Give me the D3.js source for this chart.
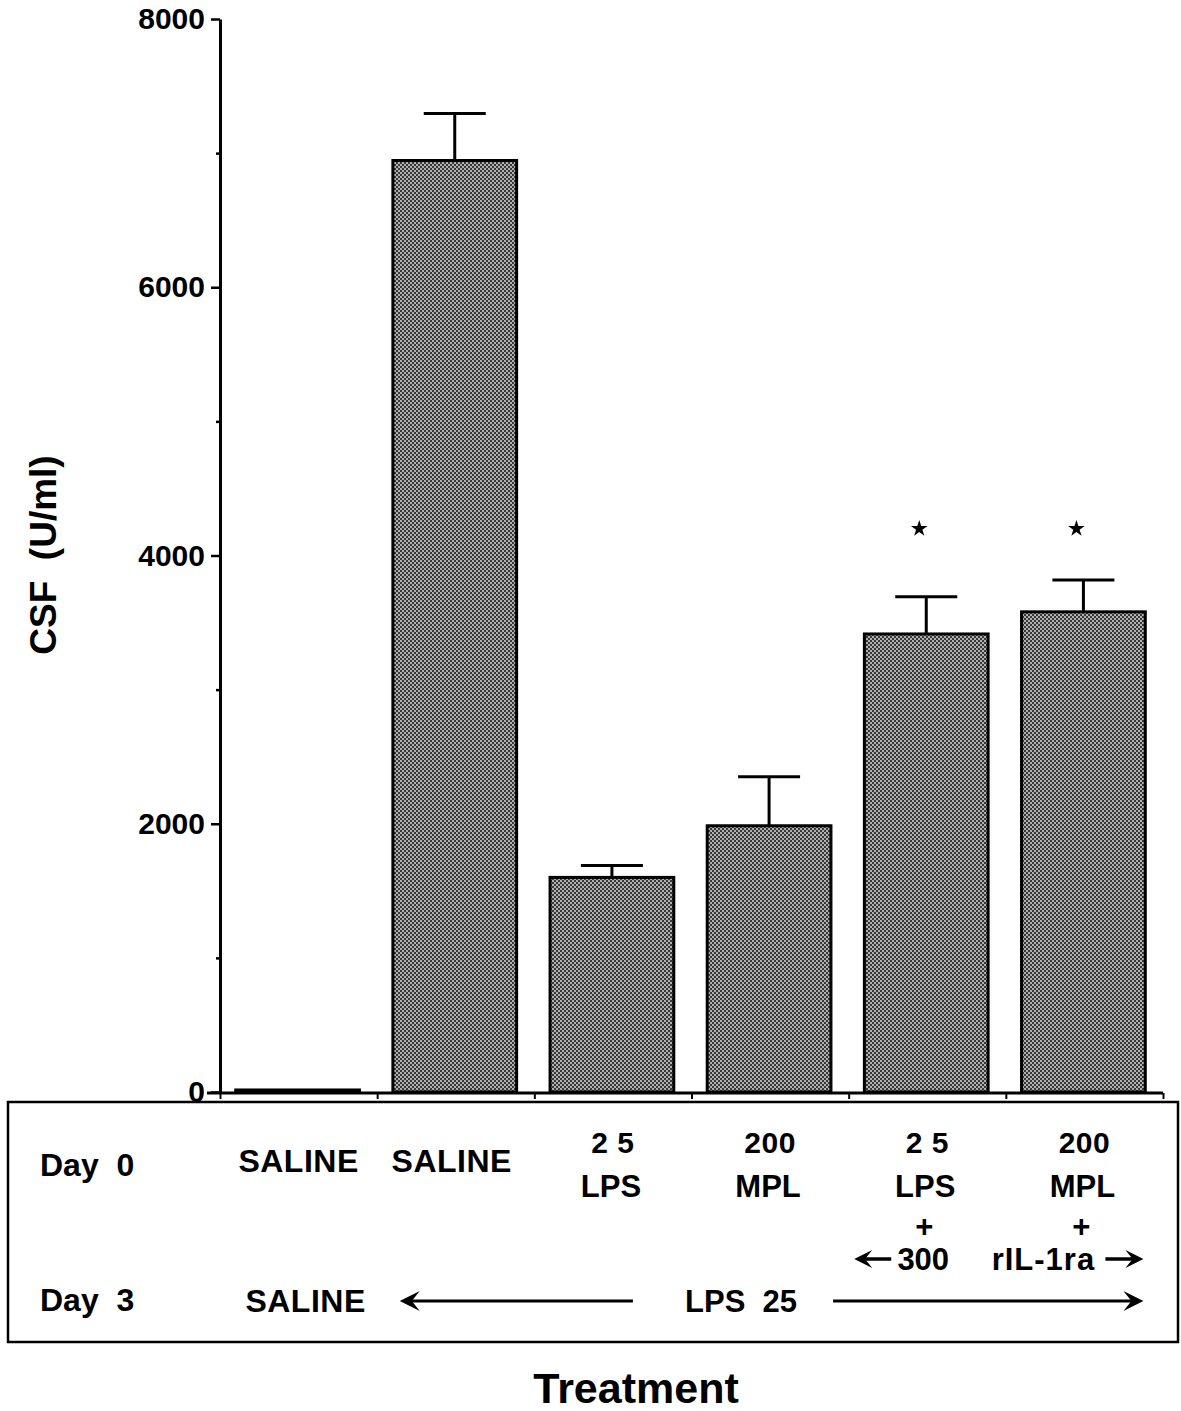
<!DOCTYPE html>
<html>
<head>
<meta charset="utf-8">
<script src="https://cdn.jsdelivr.net/npm/d3@7"></script>
<style>
  html, body { margin: 0; padding: 0; background: #fff; }
  svg text { font-family: "Liberation Sans", Arial, Helvetica, sans-serif; font-weight: bold; fill: #000; white-space: pre; }
</style>
</head>
<body>
<svg id="chart" width="1181" height="1411"></svg>
<script>
// ---- data ----
const categories = ["SALINE/SALINE", "SALINE/LPS25", "LPS25/LPS25", "MPL200/LPS25", "LPS25+rIL-1ra/LPS25", "MPL200+rIL-1ra/LPS25"];
const means = [15, 6945, 1600, 1985, 3415, 3580];
const sems  = [0, 350, 88, 365, 277, 238];
const significant = [false, false, false, false, true, true];
const starLevel = 4200;
const majorTicks = [0, 2000, 4000, 6000, 8000];
const minorTicks = [1000, 3000, 5000, 7000];
const day0Line1 = ["SALINE", "SALINE", "2 5", "200", "2 5", "200"];
const day0Line2 = ["", "", "LPS", "MPL", "LPS", "MPL"];
const day0Line3 = ["", "", "", "", "+", "+"];
const yTitle = "CSF  (U/ml)";
const xTitle = "Treatment";

const svg = d3.select("#chart");

// pattern (stippled gray fill)
const defs = svg.append("defs");
const pat = defs.append("pattern").attr("id", "stipple").attr("patternUnits", "userSpaceOnUse")
  .attr("width", 4).attr("height", 4);
pat.append("rect").attr("width", 4).attr("height", 4).attr("fill", "#383838");
pat.append("rect").attr("x", 0).attr("y", 0).attr("width", 2).attr("height", 2).attr("fill", "#b0b0b0");
pat.append("rect").attr("x", 2).attr("y", 2).attr("width", 2).attr("height", 2).attr("fill", "#b0b0b0");

// scales
const x = d3.scaleBand().domain(categories).range([220, 1163]).paddingInner(0.2).paddingOuter(0.1);
const y = d3.scaleLinear().domain([0, 8000]).range([1092, 19]);
const xb = d3.scaleLinear().domain([0, categories.length]).range([220, 1163]);
const cx = i => x(categories[i]) + x.bandwidth() / 2;

// bars
svg.append("g").selectAll("rect").data(means).join("rect")
  .attr("x", (d, i) => x(categories[i]))
  .attr("width", x.bandwidth() - 2)
  .attr("y", d => y(d))
  .attr("height", d => y(0) - y(d))
  .attr("fill", "url(#stipple)")
  .attr("stroke", "#000").attr("stroke-width", 3);

// error bars
const eb = svg.append("g").attr("stroke", "#000").attr("stroke-width", 3);
means.forEach((m, i) => {
  if (!sems[i]) return;
  eb.append("line").attr("x1", cx(i) - 1).attr("x2", cx(i) - 1).attr("y1", y(m)).attr("y2", y(m + sems[i]));
  eb.append("line").attr("x1", cx(i) - 32).attr("x2", cx(i) + 30).attr("y1", y(m + sems[i])).attr("y2", y(m + sems[i]));
});

// significance stars
svg.append("g").selectAll("path").data(means.map((m, i) => i).filter(i => significant[i])).join("path")
  .attr("d", d3.symbol(d3.symbolStar, 85))
  .attr("transform", i => `translate(${cx(i) - 8},${y(starLevel)})`)
  .attr("fill", "#000");

// y axis
const yAxis = svg.append("g").attr("transform", "translate(220,0)")
  .call(d3.axisLeft(y).tickValues(majorTicks).tickSize(9).tickSizeOuter(0).tickPadding(6).tickFormat(d3.format("d")));
yAxis.selectAll("text").attr("font-size", 30).attr("font-family", "Liberation Sans, Arial, sans-serif").attr("font-weight", "bold");
yAxis.select(".domain").attr("stroke-width", 3);
yAxis.selectAll(".tick line").attr("stroke-width", 2.5);
const yMinor = svg.append("g").attr("transform", "translate(220,0)")
  .call(d3.axisLeft(y).tickValues(minorTicks).tickSize(4).tickFormat(""));
yMinor.select(".domain").remove();
yMinor.selectAll(".tick line").attr("stroke-width", 2.5);

// x axis (boundary ticks)
const xAxis = svg.append("g").attr("transform", `translate(0,${y(0) + 1})`)
  .call(d3.axisBottom(xb).tickValues(d3.range(categories.length + 1)).tickSize(6).tickSizeOuter(0).tickFormat(""));
xAxis.select(".domain").attr("stroke-width", 3).attr("d", `M207,0H1163`);
xAxis.selectAll(".tick line").attr("stroke-width", 2);

// y title
svg.append("text").attr("transform", "translate(56,555) rotate(-90)")
  .attr("text-anchor", "middle").attr("font-size", 37).text(yTitle);

// table box
svg.append("rect").attr("x", 8).attr("y", 1102).attr("width", 1170).attr("height", 240)
  .attr("fill", "none").attr("stroke", "#000").attr("stroke-width", 2.5);

// row labels
svg.append("text").attr("x", 40).attr("y", 1176).attr("font-size", 32).text("Day  0");
svg.append("text").attr("x", 40).attr("y", 1311).attr("font-size", 32).text("Day  3");

// day 0 lines
const tbl = svg.append("g").attr("text-anchor", "middle").attr("font-size", 31);
const line1Y = i => (day0Line2[i] ? 1153 : 1172);
tbl.selectAll(".l1").data(day0Line1).join("text").attr("class", "l1")
  .attr("x", (d, i) => cx(i) + (i === 1 ? -4 : 0)).attr("y", (d, i) => line1Y(i))
  .attr("font-size", (d, i) => (day0Line2[i] ? 30 : 32)).attr("letter-spacing", "0.5px").text(d => d);
tbl.selectAll(".l2").data(day0Line2).join("text").attr("class", "l2")
  .attr("x", (d, i) => cx(i) - 2).attr("y", 1197).text(d => d);
tbl.selectAll(".l3").data(day0Line3).join("text").attr("class", "l3")
  .attr("x", (d, i) => cx(i) - 3).attr("y", 1237).text(d => d);
tbl.append("text").attr("x", cx(4) - 4).attr("y", 1270).text("300");
tbl.append("text").attr("x", cx(5) - 41).attr("y", 1270).attr("letter-spacing", "1px").text("rIL-1ra");

// day 3 line
tbl.append("text").attr("x", cx(0) + 7).attr("y", 1312).attr("font-size", 32).attr("letter-spacing", "0.5px").text("SALINE");
tbl.append("text").attr("x", cx(3) - 29).attr("y", 1312).text("LPS  25");

// arrows
function arrow(x1, x2, yy, head, sw) {
  const g = svg.append("g");
  const dir = x2 > x1 ? 1 : -1;
  g.append("line").attr("x1", x1).attr("x2", x2 - dir * 10).attr("y1", yy).attr("y2", yy)
    .attr("stroke", "#000").attr("stroke-width", sw);
  const L = head, W = head * 0.5;
  g.append("path").attr("d",
    `M${x2},${yy} L${x2 - dir * L},${yy - W} L${x2 - dir * L * 0.6},${yy} L${x2 - dir * L},${yy + W} Z`)
    .attr("fill", "#000");
}
arrow(cx(4) - 36, cx(4) - 73, 1259, 18, 3.5);
arrow(cx(5) + 21, cx(5) + 59, 1259, 18, 3.5);
arrow(cx(2) + 20, cx(1) - 56, 1301, 20, 3);
arrow(cx(3) + 63, cx(5) + 59, 1301, 20, 3);

// x title
svg.append("text").attr("x", 636).attr("y", 1403).attr("text-anchor", "middle").attr("font-size", 43).text(xTitle);
</script>
</body>
</html>
